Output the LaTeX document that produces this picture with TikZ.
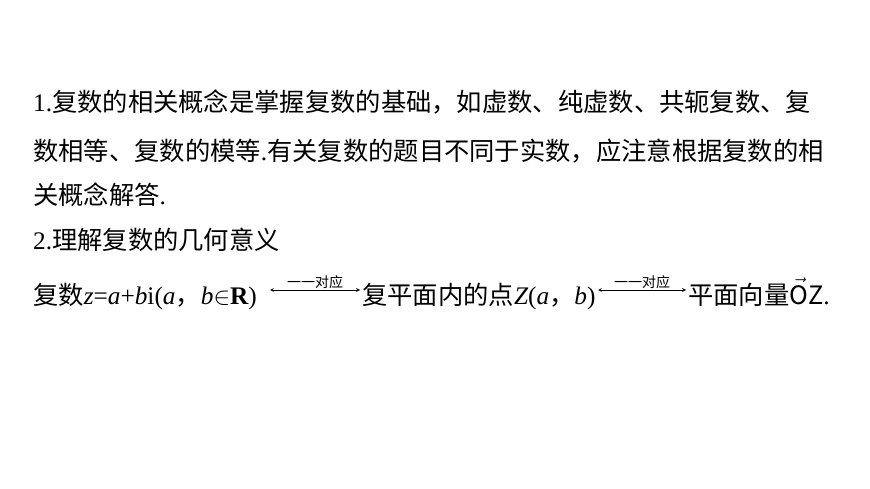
\documentclass[tikz,border=0pt]{standalone}
\usepackage{fontspec}
\setmainfont{Noto Sans CJK SC}
\newfontfamily\lat{Liberation Serif}
\begin{document}
\begin{tikzpicture}[x=1pt,y=-1pt,
  txt/.style={anchor=base west,inner sep=0pt,font=\fontsize{25.3}{25}\selectfont},
  lab/.style={anchor=base,inner sep=0pt,font=\fontsize{14}{14}\selectfont},
  arr/.style={<->,>=stealth,line width=0.7pt}]
\useasboundingbox (0,0) rectangle (870,489);
\node[txt] (l1) at (33,112) {{\lat 1.}复数的相关概念是掌握复数的基础，如虚数、纯虚数、共轭复数、复};
\node[txt] (l2) at (33,161) {数相等、复数的模等{\lat .}有关复数的题目不同于实数，应注意根据复数的相};
\node[txt] (l3) at (33,205) {关概念解答{\lat .}};
\node[txt] (l4) at (33,249) {{\lat 2.}理解复数的几何意义};
\node[txt] (a) at (33,304) {复数{\lat\itshape z}{\lat =}{\lat\itshape a}{\lat +}{\lat\itshape b}{\lat i(}{\lat\itshape a}，{\lat\itshape b}$\in${\lat\bfseries R}{\lat )}};
\node[txt] (b) at (362,304) {复平面内的点{\lat\itshape Z}{\lat (}{\lat\itshape a}，{\lat\itshape b}{\lat )}};
\node[txt] (c) at (688,304) {平面向量$\vec{\mbox{O}}$Z{\lat .}};
\coordinate (a1) at (270,290); \coordinate (a2) at (360,290);
\coordinate (b1) at (598,290); \coordinate (b2) at (686,290);
\draw[arr] (a1) -- node[lab,above=1pt] {一一对应} (a2);
\draw[arr] (b1) -- node[lab,above=1pt] {一一对应} (b2);
\end{tikzpicture}
\end{document}
